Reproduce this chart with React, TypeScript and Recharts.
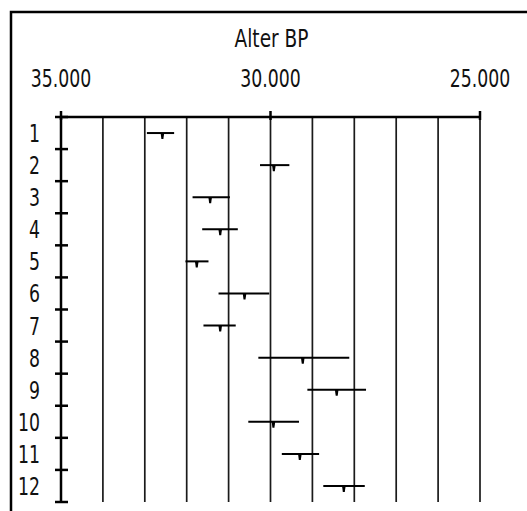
import { ScatterChart, Scatter, XAxis, YAxis, ErrorBar, ReferenceLine } from 'recharts'

// sample number (row) and radiocarbon age BP with asymmetric range
const rows = [1, 2, 3, 4, 5, 6, 7, 8, 9, 10, 11, 12]
const ages = [32580, 29920, 31440, 31200, 31760, 30620, 31200, 29230, 28420, 29930, 29300, 28250]
const youngest = [32300, 29550, 30970, 30780, 31480, 30030, 30830, 28120, 27720, 29320, 28840, 27750]
const oldest = [32950, 30250, 31860, 31630, 32030, 31240, 31600, 30290, 29120, 30530, 29730, 28740]

const xTicks = [35000, 30000, 25000]
const gridYears = [34000, 33000, 32000, 31000, 30000, 29000, 28000, 27000, 26000, 25000]
const yTicks = [0.5, 1, 1.5, 2, 2.5, 3, 3.5, 4, 4.5, 5, 5.5, 6, 6.5, 7, 7.5, 8, 8.5, 9, 9.5, 10, 10.5, 11, 11.5, 12, 12.5]

const FONT = "'DejaVu Sans Condensed', 'DejaVu Sans', sans-serif"

const data = rows.map((row, i) => ({
  row,
  age: ages[i],
  err: [ages[i] - youngest[i], oldest[i] - ages[i]],
}))

const fmt = (v: number) => String(v).replace(/\B(?=(\d{3})+(?!\d))/g, '.')

// plotter-like narrow lettering
const NarrowText = ({ x, y, anchor, sx = 0.8, children }: any) => (
  <text
    transform={`translate(${x},${y}) scale(${sx},1)`}
    textAnchor={anchor}
    fontFamily={FONT}
    fontStretch="condensed"
    fontSize={24}
    fill="#111"
  >
    {children}
  </text>
)

const TopTick = ({ x, y, payload }: any) => (
  <g>
    <line x1={x} x2={x} y1={y - 6} y2={y + 3} stroke="#000" strokeWidth={2.5} />
    <NarrowText x={x} y={y - 30} anchor="middle">
      {fmt(payload.value)}
    </NarrowText>
  </g>
)

const LeftTick = ({ x, y, payload }: any) =>
  Number.isInteger(payload.value) ? (
    <NarrowText x={x - 21} y={y + 9} anchor="end">
      {payload.value}
    </NarrowText>
  ) : (
    <line x1={x - 6} x2={x + 7} y1={y} y2={y} stroke="#000" strokeWidth={2.5} />
  )

const Stub = ({ cx, cy }: any) => (
  <path d={`M${cx - 1.8},${cy} L${cx + 1.8},${cy} L${cx + 1},${cy + 6} L${cx - 1},${cy + 6} Z`} fill="#000" />
)

export default function App() {
  return (
    <div style={{ position: 'absolute', left: 0, top: 0, width: 527, height: 511, background: '#fff' }}>
      <ScatterChart width={527} height={511} margin={{ top: 87, right: 47, bottom: 9, left: 21 }}>
        <XAxis
          dataKey="age"
          type="number"
          orientation="top"
          domain={[25000, 35000]}
          reversed
          ticks={xTicks}
          interval={0}
          height={30}
          tickSize={0}
          tickMargin={0}
          tick={<TopTick />}
          axisLine={{ stroke: '#000', strokeWidth: 2.5 }}
        />
        <YAxis
          dataKey="row"
          type="number"
          domain={[0.5, 12.5]}
          reversed
          ticks={yTicks}
          interval={0}
          width={40}
          tickSize={0}
          tickMargin={0}
          tick={<LeftTick />}
          axisLine={{ stroke: '#000', strokeWidth: 2.5 }}
        />
        {gridYears.map((v) => (
          <ReferenceLine key={v} x={v} stroke="#1a1a1a" strokeWidth={1.7} />
        ))}
        <Scatter data={data} shape={<Stub />} isAnimationActive={false}>
          <ErrorBar dataKey="err" direction="x" width={0} stroke="#000" strokeWidth={2} isAnimationActive={false} />
        </Scatter>
      </ScatterChart>
      <svg width={527} height={511} style={{ position: 'absolute', left: 0, top: 0, pointerEvents: 'none' }}>
        <path d="M11,511 V12 H527" fill="none" stroke="#000" strokeWidth={2.5} />
        <NarrowText x={271.5} y={47} anchor="middle" sx={0.86}>
          Alter BP
        </NarrowText>
      </svg>
    </div>
  )
}
